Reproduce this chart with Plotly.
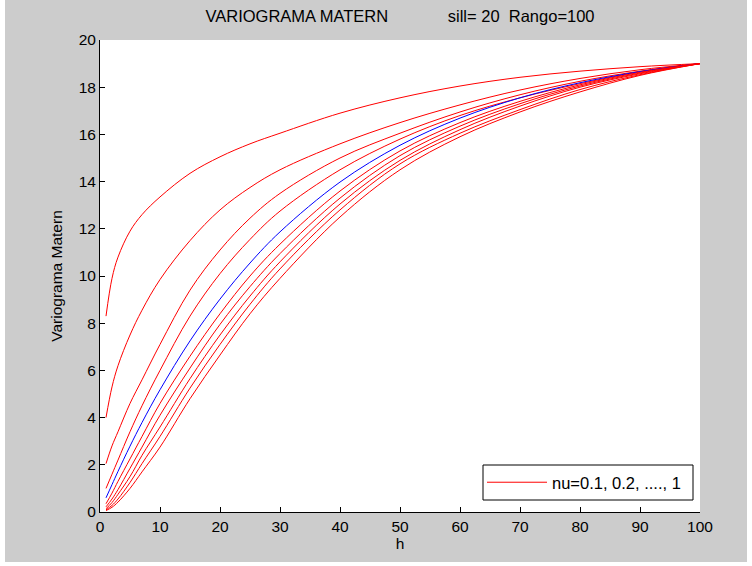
import plotly.graph_objects as go

h = [1, 2, 3, 5, 7, 10, 15, 20, 25, 30, 40, 50, 60, 70, 80, 90, 100]

nu_labels = ["0.1", "0.2", "0.3", "0.4", "0.5", "0.6", "0.7", "0.8", "0.9", "1.0"]

g_nu01 = [8.3, 9.9, 10.8, 11.9, 12.6, 13.35, 14.35, 15.05, 15.6, 16.05, 16.9, 17.55, 18.05, 18.42, 18.68, 18.87, 19.0]
g_nu02 = [4.0, 5.3, 6.2, 7.5, 8.55, 9.85, 11.5, 12.8, 13.75, 14.5, 15.6, 16.5, 17.25, 17.88, 18.37, 18.74, 19.0]
g_nu03 = [2.05, 2.8, 3.4, 4.6, 5.6, 7.1, 9.4, 11.1, 12.45, 13.5, 15.0, 16.05, 16.95, 17.68, 18.25, 18.68, 19.0]
g_nu04 = [1.0, 1.6, 2.2, 3.4, 4.5, 6.0, 8.3, 10.1, 11.55, 12.75, 14.5, 15.8, 16.8, 17.55, 18.15, 18.65, 19.0]
g_nu05 = [0.6, 1.16, 1.72, 2.79, 3.79, 5.18, 7.25, 9.02, 10.55, 11.87, 13.98, 15.54, 16.69, 17.55, 18.19, 18.66, 19.0]
g_nu06 = [0.35, 0.8, 1.3, 2.25, 3.2, 4.6, 6.6, 8.4, 10.0, 11.35, 13.6, 15.3, 16.5, 17.4, 18.1, 18.63, 19.0]
g_nu07 = [0.22, 0.55, 0.95, 1.85, 2.75, 4.1, 6.1, 7.95, 9.55, 10.95, 13.3, 15.1, 16.35, 17.3, 18.05, 18.6, 19.0]
g_nu08 = [0.14, 0.4, 0.75, 1.5, 2.4, 3.6, 5.65, 7.5, 9.15, 10.6, 13.05, 14.9, 16.2, 17.2, 18.0, 18.57, 19.0]
g_nu09 = [0.09, 0.28, 0.55, 1.25, 2.05, 3.2, 5.25, 7.1, 8.8, 10.3, 12.8, 14.75, 16.05, 17.05, 17.9, 18.53, 19.0]
g_nu10 = [0.06, 0.2, 0.42, 1.0, 1.7, 2.75, 4.8, 6.65, 8.4, 9.9, 12.5, 14.5, 15.9, 16.95, 17.8, 18.5, 19.0]

series = [g_nu01, g_nu02, g_nu03, g_nu04, g_nu05, g_nu06, g_nu07, g_nu08, g_nu09, g_nu10]

x_ticks = [0, 10, 20, 30, 40, 50, 60, 70, 80, 90, 100]
y_ticks = [0, 2, 4, 6, 8, 10, 12, 14, 16, 18, 20]

legend_label = "nu=0.1, 0.2, ...., 1"
title_main = "VARIOGRAMA MATERN"
title_sub = "sill= 20  Rango=100"

FONT = "Liberation Sans, Arial, Helvetica, sans-serif"

# figure geometry (pixels)
W, H = 752, 566
L, R, T, B = 100, 52, 40, 54
PW, PH = W - L - R, H - T - B


def px_x(p):
    return (p - L) / PW


def px_y(p):
    return (H - B - p) / PH


fig = go.Figure()
for i, (lab, ys) in enumerate(zip(nu_labels, series)):
    color = "#0000ff" if lab == "0.5" else "#ff0000"
    fig.add_trace(go.Scatter(
        x=h, y=ys, mode="lines",
        line=dict(color=color, width=1, shape="spline", smoothing=1.0),
        name=legend_label,
        showlegend=(i == 0),
        hoverinfo="skip",
    ))

NB = "\u00a0"
title_text = title_main + NB * 13 + title_sub.replace(" ", NB)

shapes = [
    # grey figure frame (with thin white border like the reference)
    dict(type="rect", xref="paper", yref="paper", layer="below",
         x0=px_x(5), x1=px_x(747), y0=px_y(562), y1=px_y(0),
         fillcolor="#cccccc", line=dict(width=0)),
    # white axes area
    dict(type="rect", xref="paper", yref="paper", layer="below",
         x0=0, x1=1, y0=0, y1=1, fillcolor="#ffffff", line=dict(width=0)),
    # legend box
    dict(type="rect", xref="paper", yref="paper", layer="above",
         x0=px_x(483), x1=px_x(693), y0=px_y(500), y1=px_y(465),
         fillcolor="#ffffff", line=dict(color="#000000", width=1)),
]

fig.update_layout(
    width=W, height=H,
    margin=dict(l=L, r=R, t=T, b=B),
    paper_bgcolor="#ffffff",
    plot_bgcolor="rgba(0,0,0,0)",
    font=dict(family=FONT, size=15.5, color="#000000"),
    title=dict(text=title_text, x=0.5, xref="paper", xanchor="center",
               y=1 - 16 / H, yanchor="middle", font=dict(family=FONT, size=16.5)),
    xaxis=dict(
        range=[0, 100], tickvals=x_ticks, ticks="inside", ticklen=5, tickwidth=1,
        tickcolor="#000000", showline=True, linecolor="#000000", linewidth=1,
        showgrid=False, zeroline=False, mirror=False,
        title=dict(text="h", standoff=4, font=dict(family=FONT, size=15.5)),
        tickfont=dict(family=FONT, size=15.5),
    ),
    yaxis=dict(
        range=[0, 20], tickvals=y_ticks, ticks="inside", ticklen=5, tickwidth=1,
        tickcolor="#000000", showline=True, linecolor="#000000", linewidth=1,
        showgrid=False, zeroline=False, mirror=False,
        title=dict(text="Variograma Matern", standoff=12, font=dict(family=FONT, size=15.5)),
        tickfont=dict(family=FONT, size=15.5),
    ),
    legend=dict(
        x=px_x(482), y=px_y(482.5), xanchor="left", yanchor="middle",
        bgcolor="rgba(0,0,0,0)", borderwidth=0,
        font=dict(family=FONT, size=16.5), itemwidth=60,
    ),
    shapes=shapes,
)

fig.write_html("out.html", config={"displayModeBar": False},
               post_script="document.body.style.margin='0';")
